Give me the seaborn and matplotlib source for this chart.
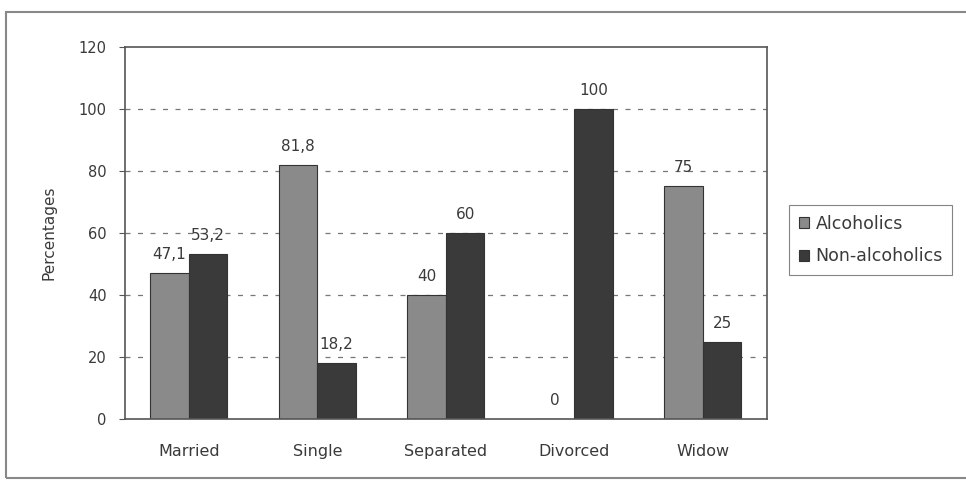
import matplotlib
matplotlib.use("Agg")
import matplotlib.pyplot as plt
import seaborn as sns
import pandas as pd
from matplotlib.patches import Rectangle

# Marital status of respondents, percentages per group
categories = ["Married", "Single", "Separated", "Divorced", "Widow"]
alcoholics = [47.1, 81.8, 40, 0, 75]
non_alcoholics = [53.2, 18.2, 60, 100, 25]
series_names = ["Alcoholics", "Non-alcoholics"]
y_ticks = [0, 20, 40, 60, 80, 100, 120]

df = pd.DataFrame({
    "status": categories * 2,
    "group": [series_names[0]] * len(categories) + [series_names[1]] * len(categories),
    "value": alcoholics + non_alcoholics,
})

sns.set_theme(style="white")
plt.rcParams["font.family"] = ["DejaVu Sans"]

fig = plt.figure(figsize=(9.66, 4.88), dpi=100)
ax = fig.add_axes([0.129, 0.141, 0.665, 0.763])

palette = {series_names[0]: "#8a8a8a", series_names[1]: "#3a3a3a"}
sns.barplot(data=df, x="status", y="value", hue="group", palette=palette,
            width=0.6, ax=ax, edgecolor="#333333", linewidth=0.8,
            saturation=1, legend=True)

ax.set_ylim(0, 120)
ax.set_yticks(y_ticks)
ax.set_yticklabels([str(t) for t in y_ticks], fontsize=10.5, color="#3a3a3a")
ax.tick_params(axis="x", labelsize=11.5, colors="#3a3a3a", length=0, pad=18)
ax.tick_params(axis="y", length=4, width=0.8, color="#555555", left=True, pad=9)
ax.set_xlabel("")
ax.set_ylabel("Percentages", fontsize=11, color="#3a3a3a", labelpad=16)

for t in y_ticks[1:-1]:
    ax.axhline(t, color="#777777", linestyle=(0, (4, 6)), linewidth=0.9, zorder=0)

for spine in ax.spines.values():
    spine.set_color("#555555")
    spine.set_linewidth(1.2)

def fmt(v):
    s = f"{v:g}"
    return s.replace(".", ",")

for container in ax.containers:
    ax.bar_label(container, labels=[fmt(v) for v in container.datavalues],
                 padding=8, fontsize=11, color="#3a3a3a")

leg = ax.legend(loc="upper left", bbox_to_anchor=(1.035, 0.575), frameon=True,
                fontsize=12.5, handlelength=0.6, handleheight=0.6,
                handletextpad=0.35, borderpad=0.55, labelspacing=0.85,
                borderaxespad=0, fancybox=False)
leg.get_frame().set_edgecolor("#666666")
leg.get_frame().set_linewidth(0.8)
for txt in leg.get_texts():
    txt.set_color("#3a3a3a")

# outer chart frame
fig.patches.append(Rectangle((0.006, 0.02), 1.2, 0.955, transform=fig.transFigure,
                             fill=False, edgecolor="#888888", linewidth=1.5))

fig.savefig("out.png", dpi=100, facecolor="white")
